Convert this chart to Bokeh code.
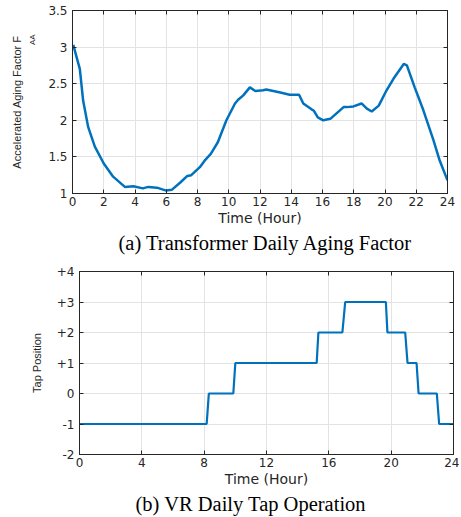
from bokeh.plotting import figure
from bokeh.models import LinearAxis, FixedTicker, Range1d
from bokeh.embed import file_html
from bokeh.resources import INLINE

# ---- data (a) ----
hours_a = [0.05, 0.47, 0.68, 1.0, 1.43, 2.0, 2.6, 3.35, 3.9, 4.5, 4.85, 5.4, 6.0, 6.35,
           6.9, 7.35, 7.6, 8.15, 8.5, 8.85, 9.3, 9.85, 10.4, 10.6, 10.93, 11.35, 11.7,
           12.2, 12.4, 13.3, 13.9, 14.5, 14.77, 15.3, 15.45, 15.7, 16.05, 16.5, 17.35,
           17.55, 17.98, 18.5, 18.84, 19.15, 19.6, 20.1, 20.55, 21.2, 21.4, 21.9, 22.45,
           23.1, 23.5, 24.0]
aging = [3.03, 2.70, 2.27, 1.91, 1.64, 1.41, 1.23, 1.09, 1.10, 1.07, 1.09, 1.08, 1.04, 1.05,
         1.15, 1.24, 1.25, 1.36, 1.46, 1.54, 1.70, 2.00, 2.23, 2.28, 2.34, 2.45, 2.40,
         2.41, 2.42, 2.38, 2.35, 2.35, 2.23, 2.15, 2.13, 2.04, 2.00, 2.02, 2.18,
         2.18, 2.19, 2.23, 2.16, 2.12, 2.20, 2.41, 2.57, 2.77, 2.75, 2.45, 2.14,
         1.73, 1.45, 1.18]
ticks_a_x = list(range(0, 25, 2))
ticks_a_y = [1, 1.5, 2, 2.5, 3, 3.5]

# ---- data (b) ----
hours_b = [0, 8.16, 8.3, 9.87, 10.0, 15.22, 15.33, 16.87, 17.05, 19.66, 19.76, 20.9, 21.05,
           21.63, 21.76, 22.93, 23.08, 24]
tap = [-1, -1, 0, 0, 1, 1, 2, 2, 3, 3, 2, 2, 1, 1, 0, 0, -1, -1]
ticks_b_x = list(range(0, 25, 4))
ticks_b_y = [-2, -1, 0, 1, 2, 3, 4]
tick_b_labels = ["-2", "-1", "0", "+1", "+2", "+3", "+4"]

BLUE = "#0072BD"
DARK = "#262626"
TICK_FONT = "DejaVu Sans"
LABEL_FONT = "Liberation Sans"
SERIF = "Liberation Serif"


def box_axis(ticks):
    return LinearAxis(ticker=FixedTicker(ticks=ticks), major_tick_in=4, major_tick_out=0,
                      minor_tick_line_color=None, major_label_text_color=None,
                      major_label_text_font_size="1px", major_label_standoff=0,
                      axis_line_color=DARK, major_tick_line_color=DARK)


def style(p, xt, yt, caption_offset):
    p.xaxis.ticker = FixedTicker(ticks=xt)
    p.yaxis.ticker = FixedTicker(ticks=yt)
    p.xgrid.ticker = FixedTicker(ticks=xt)
    p.ygrid.ticker = FixedTicker(ticks=yt)
    p.grid.grid_line_color = "#E3E3E3"
    p.grid.grid_line_width = 1
    p.outline_line_color = DARK
    p.outline_line_width = 1
    for ax in p.axis:
        ax.major_tick_in = 4
        ax.major_tick_out = 0
        ax.minor_tick_line_color = None
        ax.axis_line_color = DARK
        ax.major_tick_line_color = DARK
        ax.major_label_text_font = TICK_FONT
        ax.major_label_text_font_size = "12px"
        ax.major_label_text_color = DARK
        ax.axis_label_text_font_style = "normal"
        ax.axis_label_text_color = DARK
    p.xaxis.major_label_standoff = 3
    p.yaxis.major_label_standoff = 5
    p.xaxis.axis_label_standoff = 1
    p.xaxis.axis_label_text_font = TICK_FONT
    p.xaxis.axis_label_text_font_size = "14px"
    p.yaxis.axis_label_text_font = LABEL_FONT
    p.yaxis.axis_label_text_font_size = "11px"
    p.add_layout(box_axis(xt), "above")
    p.add_layout(box_axis(yt), "right")
    p.title.text_font = SERIF
    p.title.text_font_size = "20.5px"
    p.title.text_font_style = "normal"
    p.title.align = "left"
    p.title.offset = caption_offset
    p.title.text_color = "black"
    p.title.standoff = 2


# ---- figure (a) ----
p1 = figure(width=455, height=255, output_backend="svg", toolbar_location=None,
            x_range=Range1d(0, 24), y_range=Range1d(1, 3.5),
            title="(a) Transformer Daily Aging Factor", title_location="below",
            min_border_left=72, min_border_right=8, min_border_top=10, min_border_bottom=62)
p1.line(hours_a, aging, line_color=BLUE, line_width=2.5)
p1.xaxis.axis_label = "Time (Hour)"
# inner axis label: the subscript, pushed toward the top end of the label
p1.yaxis.axis_label = "\u00a0" * 56 + "AA"
style(p1, ticks_a_x, ticks_a_y, 46)
p1.yaxis[0].axis_label_text_font_size = "8px"
p1.yaxis[0].axis_label_standoff = 8
# outer axis carrying the main label
outer = LinearAxis(ticker=FixedTicker(ticks=[]), axis_line_color=None,
                   major_tick_line_color=None, minor_tick_line_color=None,
                   major_label_standoff=0, major_tick_in=0, major_tick_out=0,
                   axis_label="Accelerated Aging Factor F", axis_label_standoff=3,
                   axis_label_text_font=LABEL_FONT, axis_label_text_font_size="11px",
                   axis_label_text_font_style="normal", axis_label_text_color=DARK)
p1.add_layout(outer, "left")

# ---- figure (b) ----
p2 = figure(width=459, height=261, output_backend="svg", toolbar_location=None,
            x_range=Range1d(0, 24), y_range=Range1d(-2, 4),
            title="(b) VR Daily Tap Operation", title_location="below",
            min_border_left=79, min_border_right=6, min_border_top=16, min_border_bottom=62)
p2.line(hours_b, tap, line_color=BLUE, line_width=2.2)
p2.xaxis.axis_label = "Time (Hour)"
p2.yaxis.axis_label = "Tap Position"
style(p2, ticks_b_x, ticks_b_y, 56)
p2.yaxis[0].major_label_overrides = {t: l for t, l in zip(ticks_b_y, tick_b_labels)}
p2.yaxis[0].axis_label_standoff = 11

open("out.html", "w").write(file_html([p1, p2], INLINE))
